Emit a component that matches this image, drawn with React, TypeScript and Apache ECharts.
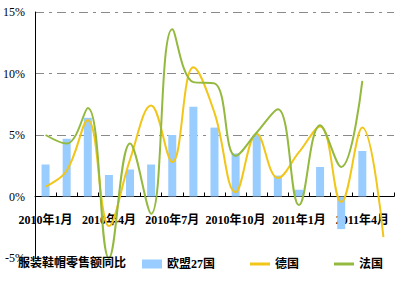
import React, { useEffect, useRef } from "react";
import * as echarts from "echarts";

const categories = [
  "2010年1月", "2010年2月", "2010年3月", "2010年4月", "2010年5月", "2010年6月",
  "2010年7月", "2010年8月", "2010年9月", "2010年10月", "2010年11月", "2010年12月",
  "2011年1月", "2011年2月", "2011年3月", "2011年4月", "2011年5月",
];
const eu27 = [2.6, 4.7, 6.4, 1.75, 2.2, 2.6, 5.0, 7.3, 5.6, 3.5, 5.0, 1.7, 0.55, 2.4, -2.65, 3.7, null];
const germany = [0.8, 2.1, 6.2, -2.4, 3.0, 7.4, 2.8, 10.5, 6.8, 0.35, 5.1, 1.5, 3.6, 5.7, -0.45, 5.6, -3.3];
const france = [5.0, 4.3, 7.2, -5.0, 4.3, -1.4, 13.6, 9.3, 9.2, 3.3, 5.2, 7.1, -0.7, 5.8, 2.4, 9.4, null];

const serif = "'Liberation Serif', 'Times New Roman', 'Noto Sans CJK SC', serif";

export default function App() {
  const ref = useRef<HTMLDivElement>(null);
  useEffect(() => {
    if (!ref.current) return;
    const chart = echarts.init(ref.current, undefined, { renderer: "svg" });
    chart.setOption({
      animation: false,
      backgroundColor: "#ffffff",
      title: {
        text: "服装鞋帽零售额同比",
        left: 13,
        top: 252,
        textStyle: { fontSize: 12, fontWeight: "bold", color: "#000", fontFamily: serif },
      },
      legend: [
        {
          data: ["欧盟27国"],
          left: 137,
          top: 253,
          icon: "rect",
          itemWidth: 20,
          itemHeight: 9,
          itemGap: 5,
          textStyle: { fontSize: 12, fontWeight: "bold", color: "#000", fontFamily: serif },
        },
        {
          data: ["德国", "法国"],
          left: 245,
          top: 253,
          icon: "rect",
          itemWidth: 20,
          itemHeight: 3,
          itemGap: 35,
          textStyle: { fontSize: 12, fontWeight: "bold", color: "#000", fontFamily: serif },
        },
      ],
      grid: { left: 32, right: 8, top: 12, bottom: 25, containLabel: false },
      xAxis: {
        type: "category",
        data: categories,
        boundaryGap: true,
        position: "bottom",
        offset: -61.5,
        axisLine: { onZero: false, lineStyle: { color: "#000", width: 1 } },
        axisTick: { show: true, inside: true, length: 4, interval: 0, lineStyle: { color: "#000" } },
        axisLabel: {
          interval: 2,
          margin: 17,
          fontSize: 12,
          fontWeight: "bold",
          color: "#000",
          fontFamily: serif,
        },
        splitLine: { show: false },
      },
      yAxis: {
        type: "value",
        min: -5,
        max: 15,
        interval: 5,
        axisLine: { show: true, lineStyle: { color: "#000", width: 1 } },
        axisTick: { show: false },
        axisLabel: {
          formatter: "{value}%",
          margin: 10,
          fontSize: 12,
          color: "#000",
          fontFamily: serif,
        },
        splitLine: {
          show: true,
          showMinLine: false,
          lineStyle: { color: "#8a8a8a", width: 1, type: [9, 5, 3, 5] },
        },
      },
      series: [
        {
          name: "欧盟27国",
          type: "bar",
          data: eu27,
          barWidth: 8,
          itemStyle: { color: "#99CCFF" },
        },
        {
          name: "德国",
          type: "line",
          data: germany,
          smooth: 0.4,
          showSymbol: false,
          symbol: "none",
          lineStyle: { color: "#F2C619", width: 2 },
          itemStyle: { color: "#F2C619" },
        },
        {
          name: "法国",
          type: "line",
          data: france,
          smooth: 0.4,
          showSymbol: false,
          symbol: "none",
          lineStyle: { color: "#94B93F", width: 2 },
          itemStyle: { color: "#94B93F" },
        },
      ],
    });
    return () => chart.dispose();
  }, []);
  return (
    <div
      ref={ref}
      style={{ position: "absolute", left: 0, top: 0, width: 402, height: 283 }}
    />
  );
}
